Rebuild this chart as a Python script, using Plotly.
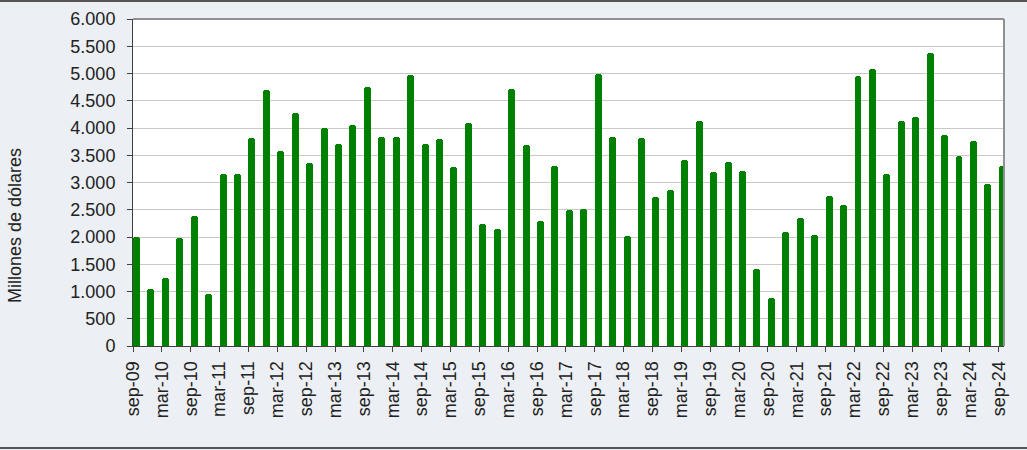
import plotly.graph_objects as go

quarters = [
    "sep-09", "dic-09", "mar-10", "jun-10", "sep-10", "dic-10",
    "mar-11", "jun-11", "sep-11", "dic-11", "mar-12", "jun-12",
    "sep-12", "dic-12", "mar-13", "jun-13", "sep-13", "dic-13",
    "mar-14", "jun-14", "sep-14", "dic-14", "mar-15", "jun-15",
    "sep-15", "dic-15", "mar-16", "jun-16", "sep-16", "dic-16",
    "mar-17", "jun-17", "sep-17", "dic-17", "mar-18", "jun-18",
    "sep-18", "dic-18", "mar-19", "jun-19", "sep-19", "dic-19",
    "mar-20", "jun-20", "sep-20", "dic-20", "mar-21", "jun-21",
    "sep-21", "dic-21", "mar-22", "jun-22", "sep-22", "dic-22",
    "mar-23", "jun-23", "sep-23", "dic-23", "mar-24", "jun-24",
    "sep-24",
]

values = [
    2000, 1040, 1240, 1990, 2390, 960,
    3150, 3150, 3810, 4690, 3570, 4270,
    3360, 4000, 3700, 4060, 4750, 3840,
    3830, 4980, 3700, 3790, 3280, 4090,
    2240, 2150, 4720, 3690, 2290, 3310,
    2490, 2520, 4990, 3830, 2010, 3810,
    2740, 2870, 3420, 4120, 3200, 3370,
    3210, 1420, 880, 2090, 2350, 2030,
    2750, 2580, 4960, 5080, 3150, 4120,
    4200, 5370, 3880, 3490, 3770, 2980,
    3300,
]

tick_labels = [
    "sep-09", "mar-10", "sep-10", "mar-11", "sep-11", "mar-12",
    "sep-12", "mar-13", "sep-13", "mar-14", "sep-14", "mar-15",
    "sep-15", "mar-16", "sep-16", "mar-17", "sep-17", "mar-18",
    "sep-18", "mar-19", "sep-19", "mar-20", "sep-20", "mar-21",
    "sep-21", "mar-22", "sep-22", "mar-23", "sep-23", "mar-24",
    "sep-24",
]

FONT = "Liberation Sans, Arial, sans-serif"
TXT = "#222222"
FS = 18

fig = go.Figure(
    go.Bar(
        x=quarters,
        y=values,
        marker=dict(color="#008000", line=dict(width=0), cornerradius=3),
        offset=0,
        width=0.48,
    )
)

W, H = 1027, 450
L, R, T, B = 133, 23, 19, 104
pw, ph = W - L - R, H - T - B

fig.update_layout(
    width=W,
    height=H,
    margin=dict(l=L, r=R, t=T, b=B, autoexpand=False),
    paper_bgcolor="#eceff3",
    plot_bgcolor="#ffffff",
    separators=",.",
    showlegend=False,
    bargap=0,
    font=dict(family=FONT, size=FS, color=TXT),
    xaxis=dict(
        type="category",
        range=[0, 60.36],
        tickmode="array",
        tickvals=tick_labels,
        ticktext=tick_labels,
        tickangle=-90,
        ticks="outside",
        ticklen=5,
        tickcolor="#404040",
        ticklabelstandoff=2,
        showline=True,
        linecolor="#404040",
        linewidth=1,
        showgrid=False,
        zeroline=False,
        tickfont=dict(family=FONT, size=FS, color=TXT),
    ),
    yaxis=dict(
        range=[0, 6000],
        dtick=500,
        tick0=0,
        tickformat=",d",
        ticks="outside",
        ticklen=5,
        tickcolor="#404040",
        ticklabelstandoff=8,
        showline=True,
        linecolor="#404040",
        linewidth=1,
        showgrid=True,
        gridcolor="#c8c8c8",
        gridwidth=1,
        zeroline=False,
        tickfont=dict(family=FONT, size=FS, color=TXT),
    ),
    shapes=[
        dict(type="line", xref="paper", yref="paper", x0=0, x1=1, y0=1, y1=1,
             line=dict(color="#909090", width=2)),
        dict(type="line", xref="paper", yref="paper", x0=1, x1=1, y0=0, y1=1,
             line=dict(color="#909090", width=2)),
        dict(type="line", xref="paper", yref="paper",
             x0=-L / pw, x1=(W - L) / pw, y0=(ph + T - 1) / ph, y1=(ph + T - 1) / ph,
             line=dict(color="#555555", width=2)),
        dict(type="line", xref="paper", yref="paper",
             x0=-L / pw, x1=(W - L) / pw, y0=(ph + T - 448) / ph, y1=(ph + T - 448) / ph,
             line=dict(color="#555555", width=2)),
    ],
    annotations=[
        dict(text="Millones de dólares", textangle=-90, showarrow=False,
             xref="paper", yref="paper", x=(15 - L) / pw, y=(ph + T - 226) / ph,
             xanchor="center", yanchor="middle",
             font=dict(family=FONT, size=FS, color=TXT)),
    ],
)

fig.write_html(
    "out.html",
    config={"displayModeBar": False},
    post_script="document.body.style.margin='0';document.body.style.overflow='hidden';",
)
